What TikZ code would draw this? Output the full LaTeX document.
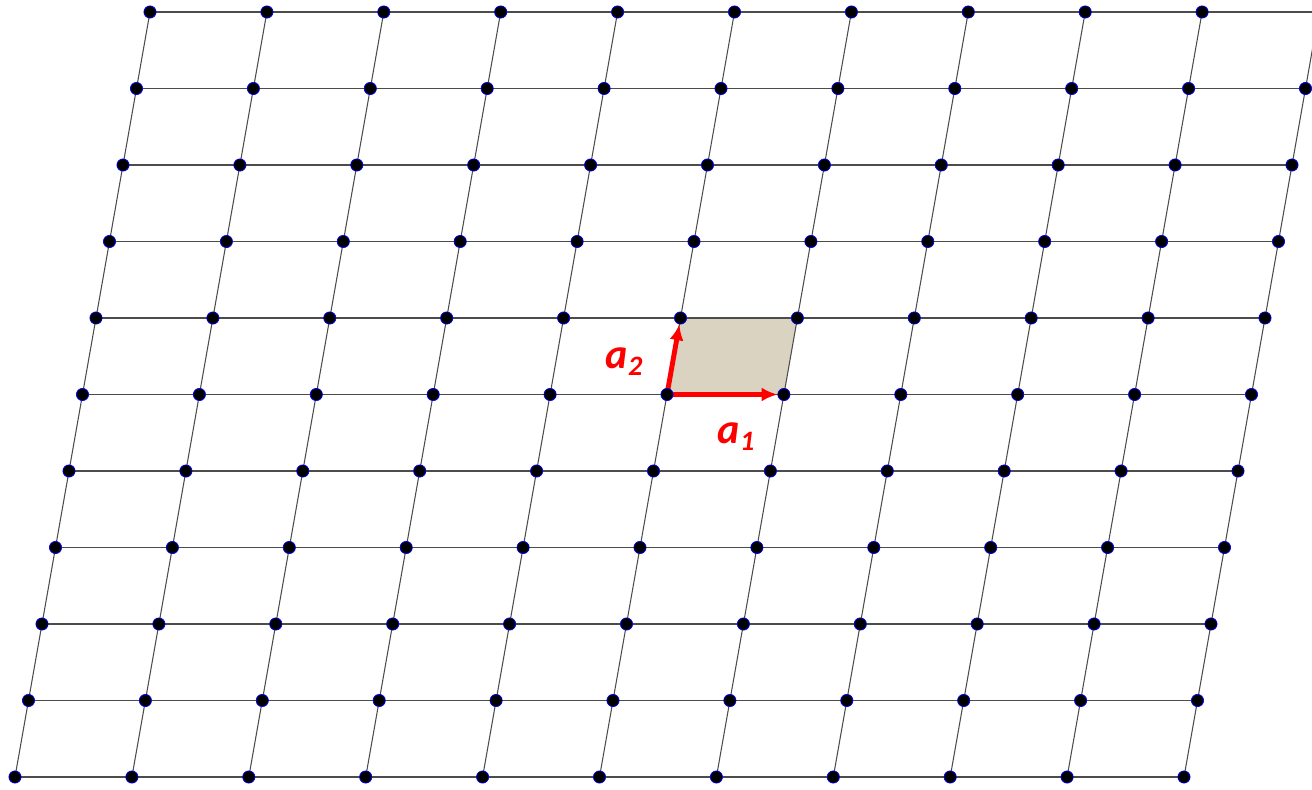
\documentclass[tikz,border=0pt]{standalone}
\usepackage{xcolor}
\usepackage{fontspec}
\newfontfamily\labelfont{Carlito}
\usetikzlibrary{arrows.meta,backgrounds}
\tikzset{>=latex}
\colorlet{Vcol}{red}
\colorlet{Lcol}{black!70}
\definecolor{Ccol}{RGB}{218,211,193}
\tikzset{
  site/.style={circle, fill=black, draw=blue, line width=0.4pt, inner sep=0pt, minimum size=0.245cm},
  bond/.style={Lcol, line width=0.6pt},
  vec/.style={Vcol, line width=2.8pt, -{Latex[length=9pt,width=8pt]}},
  veclabel/.style={text=Vcol, inner sep=0pt, font=\labelfont\bfseries\itshape\fontsize{24}{26}\selectfont}
}

\begin{document}
\begin{tikzpicture}[x=0.02cm, y=0.02cm]
    \def\Ox{15}    % origin x
    \def\Oy{12}    % origin y
    \def\Ax{116.9} % a1 length
    \def\Bx{13.5}  % a2 horizontal part
    \def\By{76.5}  % a2 vertical part
    \def\N{10}     % number of cells per side

    \useasboundingbox (0,0) rectangle (1312,789);
    \clip (0,0) rectangle (1312,789);

    % lattice sites
    \foreach \i in {0,...,\N}
      \foreach \j in {0,...,\N}
        \node[site] (s-\i-\j) at ({\Ox+\i*\Ax+\j*\Bx}, {\Oy+\j*\By}) {};

    \begin{scope}[on background layer]
      \clip (0,0) rectangle (1312,789);
      % unit cell
      \fill[Ccol] (s-5-5.center) -- (s-6-5.center) -- (s-6-6.center) -- (s-5-6.center) -- cycle;
      % bonds
      \foreach \j in {0,...,\N}
        \draw[bond] (s-0-\j.center) -- (s-\N-\j.center);
      \foreach \i in {0,...,\N}
        \draw[bond] (s-\i-0.center) -- (s-\i-\N.center);
      % primitive vectors
      \draw[vec] (s-5-5.center) -- (s-6-5);
      \draw[vec] (s-5-5.center) -- (s-5-6);
    \end{scope}

    \node[veclabel] (a1) at (736,352) {a\raisebox{-4pt}{\fontsize{16}{17}\selectfont 1}};
    \node[veclabel] (a2) at (624,427) {a\raisebox{-4pt}{\fontsize{16}{17}\selectfont 2}};
\end{tikzpicture}
\end{document}
